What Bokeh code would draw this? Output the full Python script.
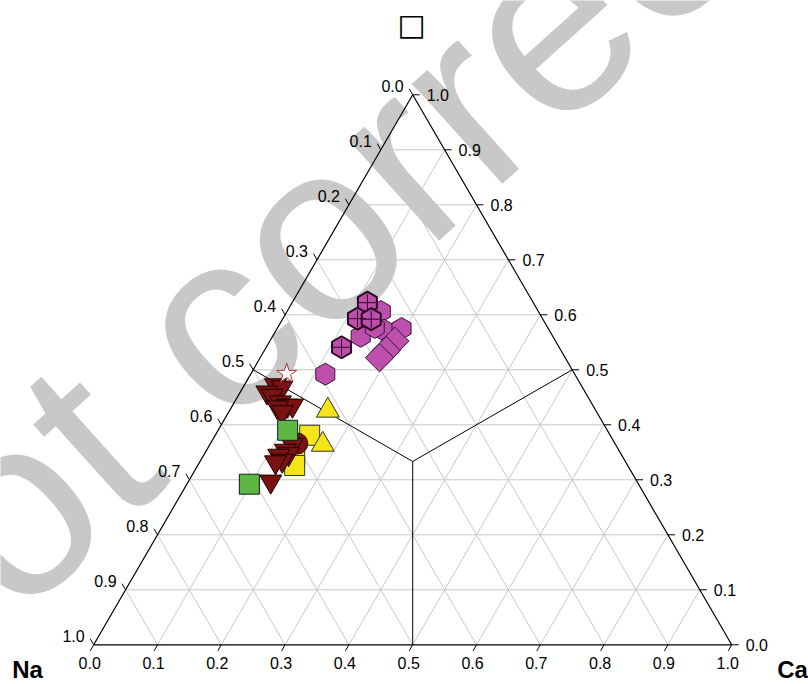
import numpy as np
from bokeh.plotting import figure
from bokeh.models import Range1d, ColumnDataSource
from bokeh.core.properties import value
from bokeh.embed import file_html
from bokeh.resources import INLINE

# ---------------- data: ternary fractions (Ca, top component); Na = 1 - Ca - top
hex_ca   = [0.147, 0.138, 0.169, 0.195, 0.117, 0.152]
hex_top  = [0.606, 0.561, 0.572, 0.575, 0.492, 0.577]
hexx_ca  = [0.118, 0.117, 0.139, 0.118]
hexx_top = [0.622, 0.593, 0.592, 0.541]
dia_ca   = [0.196, 0.191, 0.187]
dia_top  = [0.552, 0.535, 0.522]
tri_ca   = [0.049, 0.061, 0.042, 0.053, 0.072, 0.086, 0.094, 0.072, 0.084,
            0.129, 0.124, 0.132, 0.118, 0.128, 0.119, 0.129]
tri_top  = [0.472, 0.468, 0.459, 0.453, 0.441, 0.435, 0.435, 0.432, 0.423,
            0.364, 0.353, 0.347, 0.344, 0.335, 0.332, 0.297]
circ_ca  = [0.136]
circ_top = [0.366]
star_ca  = [0.056]
star_top = [0.493]
ytri_ca  = [0.154, 0.177]
ytri_top = [0.426, 0.364]
ysq_ca   = [0.148, 0.144, 0.152]
ysq_top  = [0.381, 0.342, 0.326]
gsq_ca   = [0.109, 0.098]
gsq_top  = [0.390, 0.292]

tick_vals   = [i / 10 for i in range(11)]
tick_labels = ["%.1f" % v for v in tick_vals]
axis_names  = ["Na", "Ca", "\u25a1"]
watermark   = "Not correct"

H = np.sqrt(3) / 2
SX, SY = 638.0, 635.1          # screen pixels per data unit
X0, Y0 = 93.2, 644.3           # pixel of the Na vertex


def tern(ca, top):
    ca = np.asarray(ca, float)
    top = np.asarray(top, float)
    return ca + top / 2, top * H


def pxd(px, py):
    return (px - X0) / SX, (Y0 - py) / SY


W, HH = 808, 684
xs0, ys0 = pxd(0, HH)
xs1, ys1 = pxd(W, 0)
p = figure(width=W, height=HH, x_range=Range1d(xs0, xs1), y_range=Range1d(ys0, ys1),
           output_backend="svg", toolbar_location=None, min_border=0)
p.axis.visible = False
p.grid.visible = False
p.outline_line_color = None
p.background_fill_color = "white"
p.border_fill_color = "white"

FONT = value("Liberation Sans")

# watermark
wx, wy = pxd(282, 262)
p.text(x=[wx], y=[wy], text=[watermark], angle=42, angle_units="deg",
       text_font=FONT, text_font_size=value("255px"), text_color="#c8c8c8",
       text_align="center", text_baseline="middle")

# grid lines
gx, gy = [], []
for v in tick_vals[1:-1]:
    gx.append([v / 2, 1 - v / 2]); gy.append([v * H, v * H])                 # const top
    gx.append([v, v + (1 - v) / 2]); gy.append([0, (1 - v) * H])             # const Ca
    gx.append([1 - v, (1 - v) / 2]); gy.append([0, (1 - v) * H])             # const Na
p.multi_line(gx, gy, line_color="#c8c8c8", line_width=1)

# field boundaries (centroid to edge midpoints)
cx, cy = 0.5, H / 3
p.multi_line([[cx, 0.25], [cx, 0.75], [cx, 0.5]],
             [[cy, H / 2], [cy, H / 2], [cy, 0]], line_color="black", line_width=1)

# triangle frame
p.line([0, 1, 0.5, 0], [0, 0, H, 0], line_color="black", line_width=1.2)

# ticks
L = 7.0
tx, ty = [], []
for v in tick_vals:
    tx.append([v, v - 0.5 * L / SX]); ty.append([0, -H * L / SY])                 # bottom (Ca)
    tx.append([1 - v / 2, 1 - v / 2 + L / SX]); ty.append([v * H, v * H])         # right (top)
    bx, by = (1 - v) / 2, (1 - v) * H
    tx.append([bx, bx - 0.5 * L / SX]); ty.append([by, by + H * L / SY])         # left (Na)
p.multi_line(tx, ty, line_color="black", line_width=1)

# tick labels
TFS = value("16px")
bsrc = ColumnDataSource(dict(x=[v - 4 / SX for v in tick_vals],
                             y=[-12 / SY] * 11, t=tick_labels))
p.text("x", "y", text="t", source=bsrc, text_font=FONT, text_font_size=TFS,
       text_color="black", text_align="center", text_baseline="top")
rsrc = ColumnDataSource(dict(x=[1 - v / 2 + (L + 7) / SX for v in tick_vals],
                             y=[v * H for v in tick_vals], t=tick_labels))
p.text("x", "y", text="t", source=rsrc, text_font=FONT, text_font_size=TFS,
       text_color="black", text_align="left", text_baseline="middle")
lsrc = ColumnDataSource(dict(x=[(1 - v) / 2 - 9 / SX for v in tick_vals],
                             y=[(1 - v) * H + 9 / SY for v in tick_vals], t=tick_labels))
p.text("x", "y", text="t", source=lsrc, text_font=FONT, text_font_size=TFS,
       text_color="black", text_align="right", text_baseline="alphabetic")

# axis names
nx, ny = pxd(27, 669)
cx2, cy2 = pxd(792, 669)
ax_, ay_ = pxd(411, 24)
p.text([nx, cx2], [ny, cy2], text=axis_names[:2], text_font=FONT,
       text_font_size=value("24px"), text_font_style="bold", text_color="black",
       text_align="center", text_baseline="middle")
p.text([ax_], [ay_], text=[axis_names[2]], text_font=value("DejaVu Sans"),
       text_font_size=value("30px"), text_font_style="bold", text_color="black",
       text_align="center", text_baseline="middle")

# ---------------- data markers
MAG = "#bd4fad"
x, y = tern(hex_ca, hex_top)
p.scatter(x, y, marker="hex", size=22, angle=np.pi / 6, fill_color=MAG,
          line_color="#3a1236", line_width=1)
x, y = tern(hexx_ca, hexx_top)
p.scatter(x, y, marker="hex", size=22, angle=np.pi / 6, fill_color=MAG,
          line_color="#2a0626", line_width=2)
p.scatter(x, y, marker="cross", size=17, line_color="#2a0626", line_width=1)
x, y = tern(dia_ca, dia_top)
p.scatter(x, y, marker="square", size=20, angle=np.pi / 4, fill_color=MAG,
          line_color="#3a1236", line_width=1)

x, y = tern(ysq_ca, ysq_top)
p.scatter(x, y, marker="square", size=20, fill_color="#f4e41a", line_color="#333333", line_width=1)
x, y = tern(ytri_ca, ytri_top)
p.scatter(x, y, marker="triangle", size=23, fill_color="#f4e41a", line_color="#333333", line_width=1)
x, y = tern(circ_ca, circ_top)
p.scatter(x, y, marker="circle", size=21, fill_color="#7a1212", line_color="#2a0000", line_width=1)
x, y = tern(tri_ca, tri_top)
p.scatter(x, y, marker="inverted_triangle", size=22, fill_color="#7a1212",
          line_color="#1a0000", line_width=1)
x, y = tern(gsq_ca, gsq_top)
p.scatter(x, y, marker="square", size=20, fill_color="#5cb843", line_color="#1a1a1a", line_width=1)
x, y = tern(star_ca, star_top)
p.scatter(x, y, marker="star", size=21, fill_color="white", line_color="#a83232", line_width=1)

open("out.html", "w").write(file_html(p, INLINE))
